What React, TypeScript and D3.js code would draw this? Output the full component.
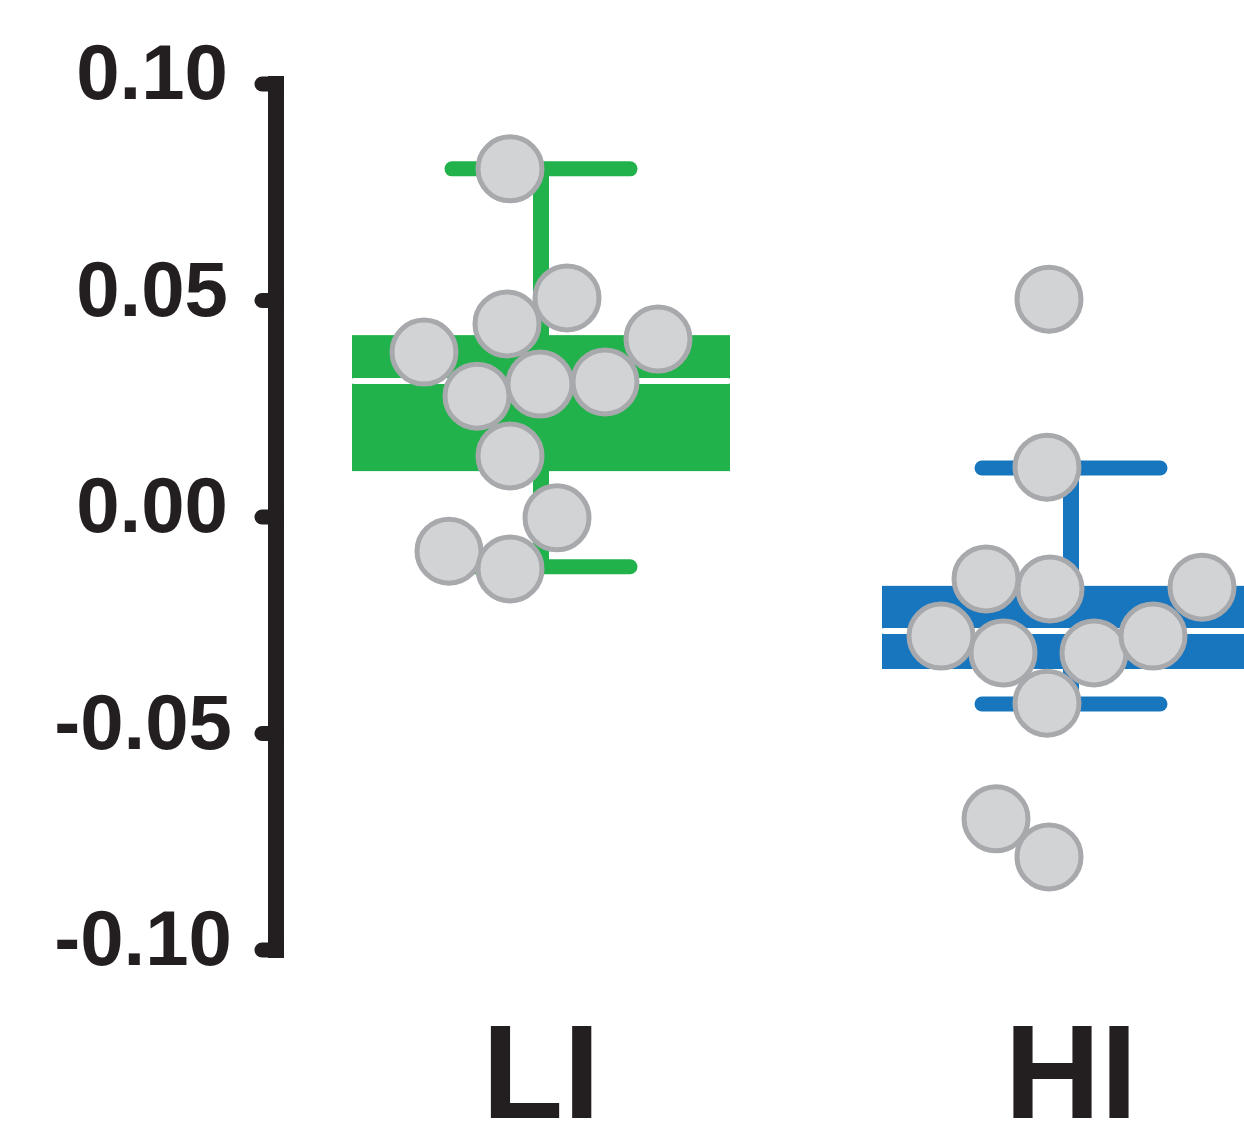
import React, { useRef, useEffect } from 'react';
import * as d3 from 'd3';

// groups on the x axis
const groups = ['LI', 'HI'];
const groupColors = ['#21b24b', '#1776be'];

// box stats per group: [whiskerLow, q1, median, q3, whiskerHigh]
const liBox = [-0.0115, 0.0106, 0.0314, 0.042, 0.0804];
const hiBox = [-0.0432, -0.0351, -0.0263, -0.0159, 0.0113];

// individual points, values and horizontal jitter (px from group centre)
const liValues = [0.0804, 0.0506, 0.0446, 0.0381, 0.0411, 0.0279, 0.0307, 0.0312, 0.0141, -0.0002, -0.0079, -0.012];
const liJitter = [-31, 26, -34, -117, 117, -64, -1, 64, -31, 16, -92, -31];
const hiValues = [0.0503, 0.0115, -0.0143, -0.0166, -0.0162, -0.0275, -0.0314, -0.0314, -0.0275, -0.043, -0.0697, -0.0785];
const hiJitter = [-22, -24, -85, -21, 131, -130, -68, 23, 82, -24, -75, -22];

const yTicks = [-0.1, -0.05, 0, 0.05, 0.1];

const W = 1244;
const H = 1127;

const App = () => {
  const svgRef = useRef<SVGSVGElement>(null);

  useEffect(() => {
    const svg = d3.select(svgRef.current);
    svg.selectAll('*').remove();

    const x = d3.scalePoint<string>().domain(groups).range([541, 1071]);
    const y = d3.scaleLinear().domain([-0.1, 0.1]).range([950, 84]);
    const boxHalf = 189;
    const capHalf = 89;
    const ink = '#231f20';
    const font = "'Liberation Sans', Arial, Helvetica, sans-serif";
    const fmt = (t: number) => d3.format('.2f')(t).replace('\u2212', '-');

    const boxes = [liBox, hiBox];
    const pts = [
      liValues.map((v, i) => ({ v, dx: liJitter[i] })),
      hiValues.map((v, i) => ({ v, dx: hiJitter[i] })),
    ];

    groups.forEach((g, gi) => {
      const cx = x(g) as number;
      const [lo, q1, med, q3, hi] = boxes[gi];
      const col = groupColors[gi];
      const grp = svg.append('g');

      // whisker stem
      grp.append('line')
        .attr('x1', cx).attr('x2', cx)
        .attr('y1', y(hi)).attr('y2', y(lo))
        .attr('stroke', col).attr('stroke-width', 16);
      // caps
      [hi, lo].forEach((w) => {
        grp.append('line')
          .attr('x1', cx - capHalf).attr('x2', cx + capHalf)
          .attr('y1', y(w)).attr('y2', y(w))
          .attr('stroke', col).attr('stroke-width', 15)
          .attr('stroke-linecap', 'round');
      });
      // box
      grp.append('rect')
        .attr('x', cx - boxHalf)
        .attr('y', y(q3))
        .attr('width', boxHalf * 2)
        .attr('height', y(q1) - y(q3))
        .attr('fill', col);
      // median
      grp.append('line')
        .attr('x1', cx - boxHalf + 2).attr('x2', cx + boxHalf - 2)
        .attr('y1', y(med)).attr('y2', y(med))
        .attr('stroke', '#ffffff').attr('stroke-width', 6)
        .attr('stroke-linecap', 'round');

      // points
      grp.selectAll('circle.pt')
        .data(pts[gi])
        .join('circle')
        .attr('class', 'pt')
        .attr('cx', (d) => cx + d.dx)
        .attr('cy', (d) => y(d.v))
        .attr('r', 32)
        .attr('fill', '#d1d3d4')
        .attr('stroke', '#a7a9ac')
        .attr('stroke-width', 5);

      // category label
      svg.append('text')
        .attr('x', cx)
        .attr('y', 1118)
        .attr('text-anchor', 'middle')
        .attr('font-family', font)
        .attr('font-weight', 700)
        .attr('font-size', 133)
        .attr('fill', ink)
        .text(g);
    });

    // y axis
    const axisX = 276;
    const ax = svg.append('g');
    ax.append('line')
      .attr('x1', axisX).attr('x2', axisX)
      .attr('y1', y(0.1) - 8).attr('y2', y(-0.1) + 8)
      .attr('stroke', ink).attr('stroke-width', 16);
    yTicks.forEach((t) => {
      ax.append('line')
        .attr('x1', 262).attr('x2', axisX)
        .attr('y1', y(t)).attr('y2', y(t))
        .attr('stroke', ink).attr('stroke-width', 15)
        .attr('stroke-linecap', 'round');
      ax.append('text')
        .attr('x', t < 0 ? 232 : 228)
        .attr('y', y(t) + 15)
        .attr('text-anchor', 'end')
        .attr('font-family', font)
        .attr('font-weight', 700)
        .attr('font-size', 78)
        .attr('fill', ink)
        .text(fmt(t));
    });
  }, []);

  return (
    <svg
      ref={svgRef}
      width={W}
      height={H}
      style={{ position: 'fixed', left: 0, top: 0, background: '#ffffff' }}
    />
  );
};

export default App;
